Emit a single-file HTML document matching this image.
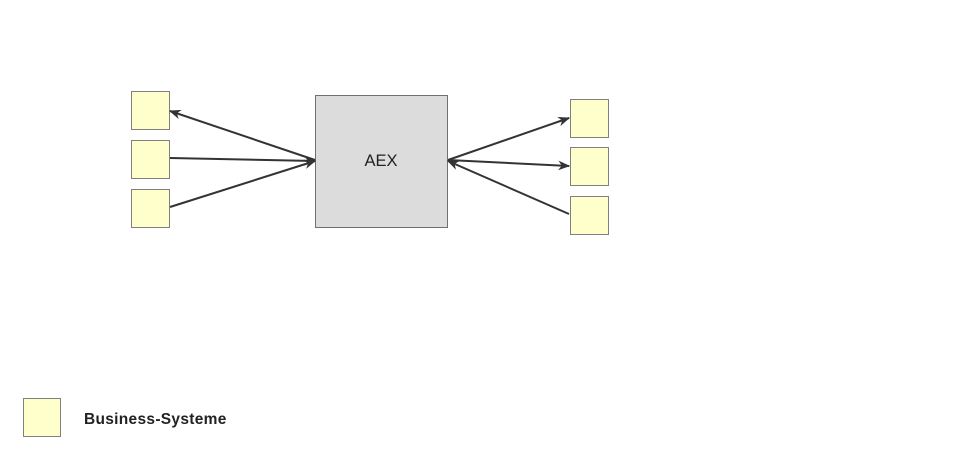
<!DOCTYPE html>
<html><head><meta charset="utf-8"><style>
html,body{margin:0;padding:0;background:#fff;}
svg{display:block;}
text{font-family:"Liberation Sans",Arial,sans-serif;fill:#222;}
</style></head><body>
<svg width="960" height="453" viewBox="0 0 960 453" xmlns="http://www.w3.org/2000/svg">
<defs>
<marker id="a" viewBox="0 0 10 10" refX="9" refY="5" markerWidth="12" markerHeight="12" markerUnits="userSpaceOnUse" orient="auto">
<path d="M0,1 L10,5 L0,9 L3,5 z" fill="#333"/>
</marker>
</defs>
<g fill="#ffffcc" stroke="#808080" stroke-width="1">
<rect x="131.5" y="91.5" width="38" height="38"/>
<rect x="131.5" y="140.5" width="38" height="38"/>
<rect x="131.5" y="189.5" width="38" height="38"/>
<rect x="570.5" y="99.5" width="38" height="38"/>
<rect x="570.5" y="147.5" width="38" height="38"/>
<rect x="570.5" y="196.5" width="38" height="38"/>
<rect x="23.5" y="398.5" width="37" height="38"/>
</g>
<rect x="315.5" y="95.5" width="132" height="132" fill="#dcdcdc" stroke="#707070"/>
<text x="381" y="166" font-size="16.5" text-anchor="middle">AEX</text>
<text x="84" y="424" font-size="15.5" font-weight="bold" letter-spacing="0.3" fill="#333">Business-Systeme</text>
<g stroke="#333" stroke-width="2" fill="none" marker-end="url(#a)">
<line x1="315" y1="160" x2="170" y2="111"/>
<line x1="170" y1="158" x2="315" y2="161"/>
<line x1="170" y1="207" x2="315" y2="161"/>
<line x1="448" y1="160" x2="569" y2="118"/>
<line x1="448" y1="160" x2="569" y2="166"/>
<line x1="569" y1="214" x2="448" y2="161"/>
</g>
</svg>
</body></html>
